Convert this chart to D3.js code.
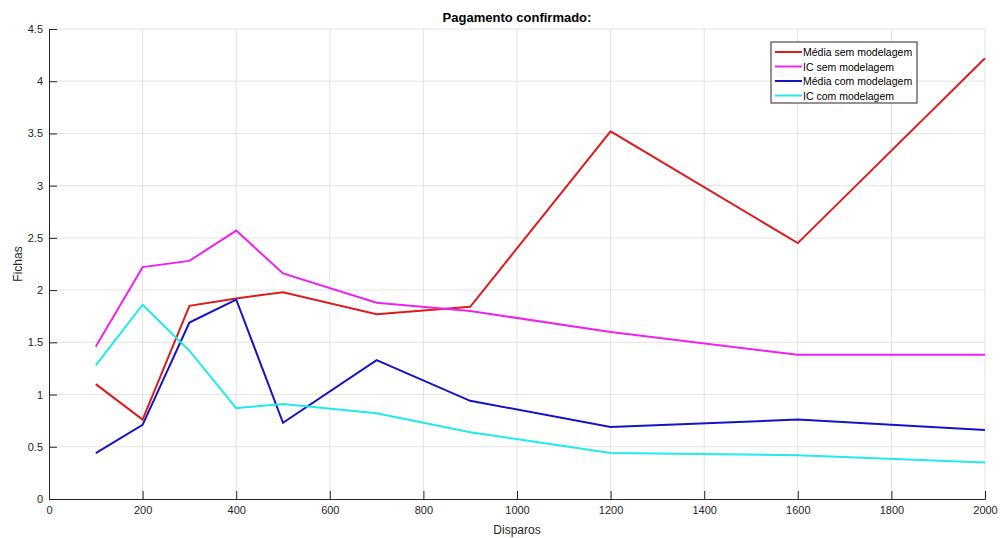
<!DOCTYPE html>
<html>
<head>
<meta charset="utf-8">
<script src="https://cdn.jsdelivr.net/npm/d3@7"></script>
<style>
    body { margin: 0; background: #fff; }
    text { font-family: "Liberation Sans", Arial, sans-serif; }
</style>
</head>
<body>
<div id="chart"></div>
<script>
// x values (Disparos)
const disparos = [100, 200, 300, 400, 500, 700, 900, 1200, 1600, 2000];

// series values (Fichas)
const mediaSem = [1.10, 0.76, 1.85, 1.92, 1.98, 1.77, 1.84, 3.52, 2.45, 4.22];
const icSem    = [1.46, 2.22, 2.28, 2.57, 2.16, 1.88, 1.80, 1.60, 1.38, 1.38];
const mediaCom = [0.44, 0.71, 1.69, 1.91, 0.73, 1.33, 0.94, 0.69, 0.76, 0.66];
const icCom    = [1.28, 1.86, 1.42, 0.87, 0.91, 0.82, 0.64, 0.44, 0.42, 0.35];

const seriesNames = ["Média sem modelagem", "IC sem modelagem", "Média com modelagem", "IC com modelagem"];
const seriesColors = ["#dd1c1c", "#ee22ee", "#1414c4", "#22eaea"];

const xTicks = [0, 200, 400, 600, 800, 1000, 1200, 1400, 1600, 1800, 2000];
const yTicks = [0, 0.5, 1, 1.5, 2, 2.5, 3, 3.5, 4, 4.5];

const W = 1001, H = 538;
const margin = {top: 29, right: 16, bottom: 39, left: 49};
const width = W - margin.left - margin.right;
const height = H - margin.top - margin.bottom;

const svg = d3.select("#chart").append("svg")
    .attr("width", W)
    .attr("height", H);

const g = svg.append("g")
    .attr("transform", "translate(" + margin.left + "," + margin.top + ")");

const x = d3.scaleLinear().domain([0, 2000]).range([0, width]);
const y = d3.scaleLinear().domain([0, 4.5]).range([height, 0]);

// grid
g.append("g").selectAll("line.gx")
    .data(xTicks.slice(1))
    .enter().append("line")
    .attr("x1", d => x(d)).attr("x2", d => x(d))
    .attr("y1", 0).attr("y2", height)
    .style("stroke", "#e3e3e3").style("stroke-width", 1);

g.append("g").selectAll("line.gy")
    .data(yTicks.slice(1))
    .enter().append("line")
    .attr("x1", 0).attr("x2", width)
    .attr("y1", d => y(d)).attr("y2", d => y(d))
    .style("stroke", "#e3e3e3").style("stroke-width", 1);

// axes (MATLAB style, ticks pointing inward)
const xAxis = d3.axisBottom(x)
    .tickValues(xTicks)
    .tickSize(-8)
    .tickPadding(7)
    .tickFormat(d3.format("d"));

const yAxis = d3.axisLeft(y)
    .tickValues(yTicks)
    .tickSize(-8)
    .tickPadding(6)
    .tickFormat(d => d);

const gx = g.append("g")
    .attr("transform", "translate(0," + height + ")")
    .call(xAxis);

const gy = g.append("g").call(yAxis);

[gx, gy].forEach(a => {
    a.select(".domain").style("stroke", "#262626").style("stroke-width", 1);
    a.selectAll(".tick line").style("stroke", "#262626");
    a.selectAll(".tick text")
        .style("font-size", "11px")
        .style("fill", "#262626");
});

// lines
const allSeries = [mediaSem, icSem, mediaCom, icCom];

const line = d3.line()
    .x((d, i) => x(disparos[i]))
    .y(d => y(d));

g.selectAll(".serie")
    .data(allSeries)
    .enter().append("path")
    .attr("class", "serie")
    .attr("d", d => line(d))
    .style("fill", "none")
    .style("stroke", (d, i) => seriesColors[i])
    .style("stroke-width", 2);

// title and labels
svg.append("text")
    .attr("x", margin.left + width / 2)
    .attr("y", 22)
    .attr("text-anchor", "middle")
    .style("font-size", "13px")
    .style("font-weight", "bold")
    .style("fill", "#000")
    .text("Pagamento confirmado:");

svg.append("text")
    .attr("x", margin.left + width / 2)
    .attr("y", 534)
    .attr("text-anchor", "middle")
    .style("font-size", "12px")
    .style("fill", "#262626")
    .text("Disparos");

svg.append("text")
    .attr("transform", "translate(22," + (margin.top + height / 2) + ") rotate(-90)")
    .attr("text-anchor", "middle")
    .style("font-size", "12px")
    .style("fill", "#262626")
    .text("Fichas");

// legend
const legend = svg.append("g")
    .attr("transform", "translate(771,42)");

legend.append("rect")
    .attr("width", 146)
    .attr("height", 61)
    .style("fill", "#fff")
    .style("stroke", "#262626")
    .style("stroke-width", 1);

const items = legend.selectAll(".item")
    .data(seriesNames)
    .enter().append("g")
    .attr("transform", (d, i) => "translate(0," + (10 + i * 14.5) + ")");

items.append("line")
    .attr("x1", 4).attr("x2", 31)
    .attr("y1", 0).attr("y2", 0)
    .style("stroke", (d, i) => seriesColors[i])
    .style("stroke-width", 2);

items.append("text")
    .attr("x", 32)
    .attr("y", 4)
    .style("font-size", "10.5px")
    .style("fill", "#000")
    .text(d => d);
</script>
</body>
</html>
